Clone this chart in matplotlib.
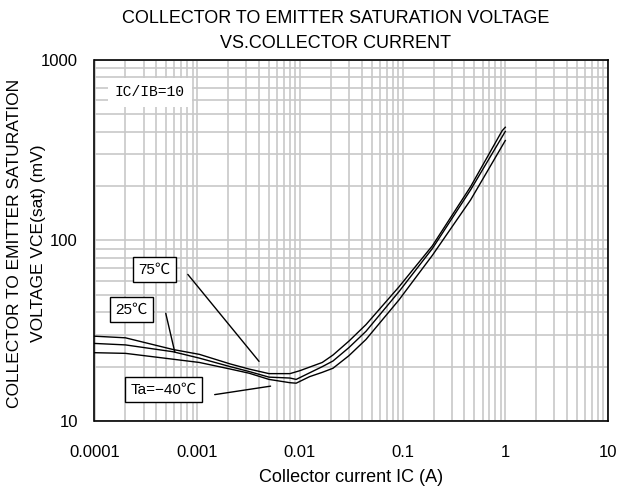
import numpy as np
import matplotlib
matplotlib.use('Agg')
from matplotlib import pyplot as plt
from matplotlib.ticker import LogLocator, NullFormatter

# Collector current (A) and VCE(sat) (mV)
ic_75 = [1e-4, 2e-4, 5.8e-4, 1.05e-3, 2.1e-3, 3.2e-3, 5e-3, 8e-3, 1e-2,
         1.65e-2, 2.1e-2, 3e-2, 4.4e-2, 9.2e-2, 0.195, 0.46, 0.93, 1.0]
vce_75 = [29.5, 28.9, 24.9, 23.4, 20.7, 19.4, 18.3, 18.3, 19.0,
          21.1, 23.2, 27.7, 34.2, 55.3, 93.5, 199, 405, 424]

ic_25 = [1e-4, 2e-4, 5.8e-4, 1.05e-3, 2.1e-3, 3.2e-3, 5e-3, 8e-3, 9.2e-3,
         1.65e-2, 2.1e-2, 3e-2, 4.4e-2, 9.2e-2, 0.195, 0.46, 1.0]
vce_25 = [26.9, 26.4, 24.2, 22.3, 20.0, 18.8, 17.5, 17.3, 17.0,
          20.0, 21.5, 25.5, 31.4, 52.0, 90.3, 191, 402]

ic_m40 = [1e-4, 2e-4, 5.8e-4, 1.05e-3, 2.1e-3, 3.2e-3, 5e-3, 8e-3, 9.2e-3,
          1.24e-2, 1.65e-2, 2.1e-2, 3e-2, 4.4e-2, 9.2e-2, 0.195, 0.46, 1.0]
vce_m40 = [23.9, 23.7, 22.0, 21.1, 19.4, 18.4, 17.0, 16.3, 16.2,
           17.6, 18.6, 19.6, 23.0, 28.3, 46.8, 82.8, 168, 358]

# Curve labels: text, box centre, leader start, leader end (data coords)
labels = ['75℃', '25℃', 'Ta=−40℃']
label_xy = [(3.83e-4, 69), (2.31e-4, 41.4), (4.71e-4, 14.9)]
leader_from = [(8.1e-4, 64.9), (4.94e-4, 39.5), (1.48e-3, 14.0)]
leader_to = [(4.0e-3, 21.4), (6.05e-4, 24.1), (5.18e-3, 15.6)]

x_ticks = [1e-4, 1e-3, 1e-2, 1e-1, 1, 10]
x_ticklabels = ['0.0001', '0.001', '0.01', '0.1', '1', '10']
y_ticks = [10, 100, 1000]
y_ticklabels = ['10', '100', '1000']

sans = ['Liberation Sans', 'Noto Sans CJK JP']
plt.rcParams['font.family'] = sans

fig = plt.figure(figsize=(6.18, 4.91), dpi=100)
ax = fig.add_axes([94.5 / 618, 70 / 491, 513.5 / 618, 361 / 491])

ax.set_xscale('log')
ax.set_yscale('log')
ax.set_xlim(1e-4, 10)
ax.set_ylim(10, 1000)

ax.xaxis.set_minor_locator(LogLocator(base=10, subs=np.arange(2, 10)))
ax.yaxis.set_minor_locator(LogLocator(base=10, subs=np.arange(2, 10)))
ax.xaxis.set_minor_formatter(NullFormatter())
ax.yaxis.set_minor_formatter(NullFormatter())
ax.set_xticks(x_ticks)
ax.set_xticklabels(x_ticklabels)
ax.set_yticks(y_ticks)
ax.set_yticklabels(y_ticklabels)
ax.tick_params(which='both', length=0, labelsize=12)
ax.tick_params(axis='x', pad=17)
ax.tick_params(axis='y', pad=12)
ax.grid(True, which='both', color='#c8c8c8', lw=1.2)
ax.set_axisbelow(True)
for sp in ax.spines.values():
    sp.set_linewidth(1.2)
    sp.set_zorder(5)

for ic, vce in [(ic_75, vce_75), (ic_25, vce_25), (ic_m40, vce_m40)]:
    ax.plot(ic, vce, color='black', lw=1.0, zorder=3)

for txt, xy, p0, p1 in zip(labels, label_xy, leader_from, leader_to):
    ax.annotate('', xy=p1, xytext=p0,
                arrowprops=dict(arrowstyle='-', color='black', lw=1.0,
                                shrinkA=0, shrinkB=0), zorder=4)
    ax.text(xy[0], xy[1], txt, fontsize=11, ha='center', va='center',
            bbox=dict(boxstyle='square,pad=0.35', fc='white', ec='black', lw=1.0),
            zorder=6)

ax.text(1.58e-4, 662, 'IC/IB=10', family='Liberation Mono', fontsize=10.5,
        ha='left', va='center',
        bbox=dict(boxstyle='square,pad=0.5', fc='white', ec='none'), zorder=6)

fig.text(336 / 618, 1 - 31 / 491,
         'COLLECTOR TO EMITTER SATURATION VOLTAGE\nVS.COLLECTOR CURRENT',
         ha='center', va='center', fontsize=13, linespacing=1.6)
fig.text(27 / 618, 1 - 243 / 491,
         'COLLECTOR TO EMITTER SATURATION\nVOLTAGE VCE(sat) (mV)',
         ha='center', va='center', rotation=90, fontsize=12.5,
         linespacing=1.75, multialignment='center')
ax.set_xlabel('Collector current IC (A)', fontsize=13, labelpad=7)

fig.savefig('out.png', dpi=100)
